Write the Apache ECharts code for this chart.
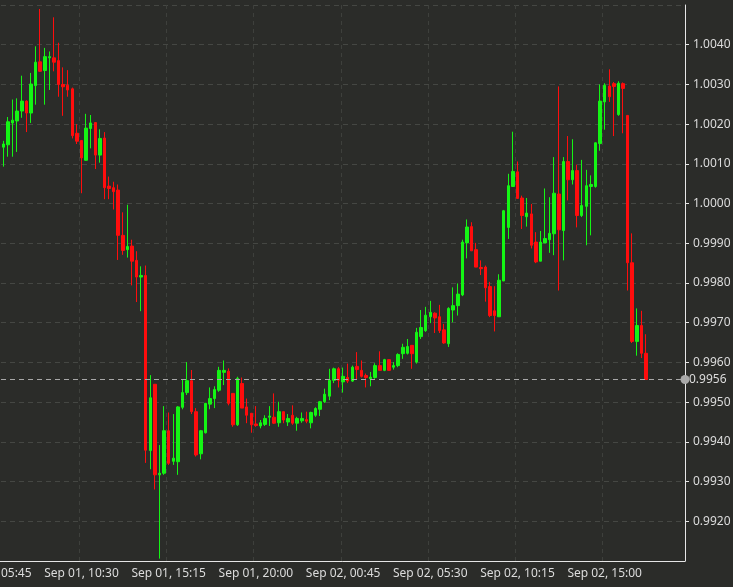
<!DOCTYPE html>
<html>
<head>
<meta charset="utf-8">
<script src="https://cdn.jsdelivr.net/npm/echarts@6/dist/echarts.min.js"></script>
<style>
  html, body { margin: 0; padding: 0; background: #2b2c29; }
  #main { width: 733px; height: 587px; }
</style>
</head>
<body>
<div id="main"></div>
<script>
// 15 minute candles, Sep 01 05:45 -> Sep 02 17:15 (first two slots are off the left edge)
var startTime = Date.UTC(2022, 8, 1, 5, 45);
var slotCount = 151;          // axis runs a few empty slots past the last candle
var labelEvery = 19;          // one label every 4h45
var monthNames = ['Jan','Feb','Mar','Apr','May','Jun','Jul','Aug','Sep','Oct','Nov','Dec'];

var opens = [
  null, null,
  1.00142, 1.00148, 1.00203, 1.00208, 1.00233, 1.00258, 1.00228, 1.00297, 1.00357, 1.00335,
  1.00367, 1.00367, 1.00360, 1.00300, 1.00298, 1.00289, 1.00177, 1.00159, 1.00109, 1.00189,
  1.00204, 1.00122, 1.00165, 1.00044, 1.00040, 1.00034, 0.99920, 0.99884, 0.99893, 0.99857,
  0.99815, 0.99819, 0.99378, 0.99545, 0.99317, 0.99321, 0.99428, 0.99351, 0.99350, 0.99487,
  0.99524, 0.99554, 0.99476, 0.99370, 0.99423, 0.99495, 0.99509, 0.99530, 0.99575, 0.99578,
  0.99522, 0.99443, 0.99547, 0.99488, 0.99472, 0.99445, 0.99440, 0.99444, 0.99462, 0.99462,
  0.99448, 0.99476, 0.99450, 0.99467, 0.99447, 0.99453, 0.99456, 0.99448, 0.99467, 0.99482,
  0.99501, 0.99515, 0.99555, 0.99584, 0.99551, 0.99562, 0.99553, 0.99590, 0.99580, 0.99567,
  0.99559, 0.99562, 0.99592, 0.99580, 0.99607, 0.99588, 0.99592, 0.99622, 0.99623, 0.99643,
  0.99601, 0.99665, 0.99680, 0.99715, 0.99724, 0.99715, 0.99682, 0.99647, 0.99732, 0.99743,
  0.99770, 0.99901, 0.99942, 0.99884, 0.99839, 0.99840, 0.99791, 0.99730, 0.99715, 0.99805,
  0.99940, 1.00043, 1.00080, 1.00014, 0.99967, 0.99974, 0.99903, 0.99855, 0.99901, 0.99909,
  0.99924, 1.00024, 0.99932, 1.00106, 1.00060, 1.00083, 0.99970, 0.99993, 1.00043, 1.00043,
  1.00151, 1.00256, 1.00296, 1.00302, 1.00224, 1.00302, 1.00222, 0.99851, 0.99653, 0.99693,
  0.99623
];
var closes = [
  null, null,
  1.00150, 1.00206, 1.00210, 1.00233, 1.00258, 1.00228, 1.00301, 1.00356, 1.00333, 1.00370,
  1.00370, 1.00356, 1.00300, 1.00294, 1.00286, 1.00171, 1.00157, 1.00115, 1.00190, 1.00203,
  1.00122, 1.00164, 1.00040, 1.00038, 1.00030, 0.99920, 0.99882, 0.99892, 0.99855, 0.99815,
  0.99819, 0.99379, 0.99511, 0.99317, 0.99321, 0.99428, 0.99346, 0.99359, 0.99488, 0.99524,
  0.99554, 0.99476, 0.99367, 0.99428, 0.99497, 0.99509, 0.99532, 0.99580, 0.99580, 0.99497,
  0.99443, 0.99560, 0.99485, 0.99467, 0.99443, 0.99441, 0.99448, 0.99459, 0.99465, 0.99447,
  0.99476, 0.99455, 0.99459, 0.99447, 0.99459, 0.99459, 0.99452, 0.99474, 0.99484, 0.99501,
  0.99520, 0.99555, 0.99584, 0.99555, 0.99565, 0.99553, 0.99588, 0.99582, 0.99565, 0.99562,
  0.99563, 0.99592, 0.99580, 0.99607, 0.99580, 0.99592, 0.99620, 0.99638, 0.99640, 0.99622,
  0.99676, 0.99688, 0.99719, 0.99726, 0.99712, 0.99680, 0.99649, 0.99736, 0.99743, 0.99772,
  0.99903, 0.99941, 0.99881, 0.99840, 0.99836, 0.99788, 0.99718, 0.99718, 0.99807, 0.99982,
  1.00045, 1.00081, 1.00013, 0.99970, 0.99976, 0.99895, 0.99853, 0.99903, 0.99912, 0.99925,
  1.00026, 0.99934, 1.00106, 1.00060, 1.00083, 0.99970, 0.99995, 1.00045, 1.00048, 1.00153,
  1.00258, 1.00298, 1.00269, 1.00295, 1.00303, 1.00290, 0.99851, 0.99653, 0.99693, 0.99623,
  0.99557
];
var lows = [
  null, null,
  1.00093, 1.00118, 1.00118, 1.00130, 1.00216, 1.00180, 1.00203, 1.00249, 1.00332, 1.00249,
  1.00286, 1.00333, 1.00269, 1.00221, 1.00269, 1.00164, 1.00150, 1.00026, 1.00108, 1.00139,
  1.00087, 1.00103, 1.00011, 1.00011, 0.99985, 0.99858, 0.99871, 0.99864, 0.99794, 0.99752,
  0.99729, 0.99347, 0.99331, 0.99280, 0.99106, 0.99317, 0.99342, 0.99342, 0.99317, 0.99482,
  0.99518, 0.99470, 0.99363, 0.99356, 0.99421, 0.99482, 0.99485, 0.99526, 0.99543, 0.99492,
  0.99438, 0.99440, 0.99485, 0.99447, 0.99423, 0.99438, 0.99434, 0.99440, 0.99440, 0.99445,
  0.99438, 0.99447, 0.99440, 0.99443, 0.99428, 0.99448, 0.99447, 0.99434, 0.99463, 0.99465,
  0.99498, 0.99505, 0.99548, 0.99537, 0.99524, 0.99548, 0.99551, 0.99556, 0.99562, 0.99537,
  0.99540, 0.99559, 0.99580, 0.99578, 0.99580, 0.99582, 0.99588, 0.99609, 0.99620, 0.99584,
  0.99597, 0.99659, 0.99677, 0.99699, 0.99674, 0.99674, 0.99647, 0.99639, 0.99701, 0.99718,
  0.99767, 0.99862, 0.99881, 0.99840, 0.99820, 0.99753, 0.99714, 0.99678, 0.99715, 0.99805,
  0.99911, 1.00043, 1.00012, 0.99936, 0.99942, 0.99887, 0.99850, 0.99855, 0.99901, 0.99876,
  0.99870, 0.99781, 0.99857, 1.00008, 1.00048, 0.99940, 0.99966, 0.99895, 0.99920, 1.00040,
  1.00133, 1.00186, 1.00256, 1.00170, 1.00221, 1.00177, 0.99781, 0.99649, 0.99617, 0.99611,
  0.99557
];
var highs = [
  null, null,
  1.00158, 1.00218, 1.00262, 1.00265, 1.00322, 1.00260, 1.00329, 1.00396, 1.00490, 1.00392,
  1.00383, 1.00469, 1.00405, 1.00343, 1.00336, 1.00292, 1.00200, 1.00159, 1.00226, 1.00223,
  1.00204, 1.00187, 1.00180, 1.00068, 1.00055, 1.00048, 0.99978, 0.99997, 0.99909, 0.99880,
  0.99842, 0.99844, 0.99568, 0.99545, 0.99392, 0.99490, 0.99474, 0.99470, 0.99490, 0.99558,
  0.99601, 0.99581, 0.99485, 0.99430, 0.99498, 0.99537, 0.99540, 0.99589, 0.99605, 0.99585,
  0.99522, 0.99564, 0.99562, 0.99509, 0.99472, 0.99490, 0.99455, 0.99467, 0.99490, 0.99522,
  0.99501, 0.99476, 0.99470, 0.99492, 0.99463, 0.99474, 0.99476, 0.99476, 0.99487, 0.99503,
  0.99534, 0.99584, 0.99587, 0.99588, 0.99587, 0.99597, 0.99592, 0.99626, 0.99605, 0.99572,
  0.99576, 0.99598, 0.99628, 0.99609, 0.99607, 0.99601, 0.99623, 0.99647, 0.99659, 0.99643,
  0.99687, 0.99732, 0.99740, 0.99755, 0.99726, 0.99745, 0.99697, 0.99739, 0.99789, 0.99799,
  0.99909, 0.99960, 0.99953, 0.99901, 0.99857, 0.99844, 0.99803, 0.99792, 0.99822, 0.99984,
  1.00075, 1.00181, 1.00106, 1.00020, 1.00014, 0.99999, 0.99928, 0.99931, 1.00038, 1.00016,
  1.00117, 1.00295, 1.00117, 1.00170, 1.00162, 1.00098, 1.00110, 1.00085, 1.00071, 1.00154,
  1.00300, 1.00303, 1.00338, 1.00306, 1.00308, 1.00305, 1.00222, 0.99925, 0.99736, 0.99730,
  0.99671
];

var yMin = 0.9910, yMax = 1.0050, yStep = 0.001;

function pad2(n) { return (n < 10 ? '0' : '') + n; }

var categories = [];
for (var k = 0; k < slotCount; k++) {
  var d = new Date(startTime + k * 15 * 60 * 1000);
  categories.push(monthNames[d.getUTCMonth()] + ' ' + pad2(d.getUTCDate()) + ', ' +
    pad2(d.getUTCHours()) + ':' + pad2(d.getUTCMinutes()));
}

var candles = [];
for (var i = 0; i < opens.length; i++) {
  if (opens[i] === null) {
    candles.push(['-', '-', '-', '-']);
  } else {
    candles.push([opens[i], closes[i], lows[i], highs[i]]);
  }
}
var lastClose = closes[closes.length - 1];

function showEvery(index) { return index % labelEvery === 0; }

var chart = echarts.init(document.getElementById('main'));
var option = {
  backgroundColor: '#2b2c29',
  animation: false,
  grid: { left: -8, right: 48, top: 5, bottom: 26, containLabel: false, outerBoundsMode: 'none' },
  xAxis: {
    type: 'category',
    data: categories,
    boundaryGap: true,
    axisLine: { lineStyle: { color: '#e6e6e6', width: 1 } },
    axisTick: { interval: showEvery, alignWithLabel: true, length: 4, lineStyle: { color: '#e6e6e6' } },
    axisLabel: { interval: showEvery, color: '#dcdcdc', fontSize: 12, margin: 7, fontFamily: 'Noto Sans' },
    splitLine: { show: true, interval: showEvery, lineStyle: { color: '#3e403c', type: [4, 4] } }
  },
  yAxis: {
    type: 'value',
    position: 'right',
    scale: true,
    min: yMin,
    max: yMax,
    interval: yStep,
    axisLine: { show: true, lineStyle: { color: '#e6e6e6' } },
    axisTick: { show: true, length: 4, lineStyle: { color: '#e6e6e6' } },
    axisLabel: {
      color: '#dcdcdc', fontSize: 12, margin: 8, fontFamily: 'Noto Sans',
      showMinLabel: false, showMaxLabel: false,
      formatter: function (v) { return v.toFixed(4); }
    },
    splitLine: { show: true, lineStyle: { color: '#454743', type: [5, 4] } }
  },
  series: [{
    type: 'candlestick',
    data: candles,
    barWidth: 3,
    itemStyle: {
      color: '#14f514',
      color0: '#ff0d0d',
      borderColor: '#14f514',
      borderColor0: '#ff0d0d',
      borderWidth: 1
    }
  }, {
    // last price marker
    type: 'line',
    data: [],
    silent: true,
    markLine: {
      silent: true,
      precision: 5,
      symbol: ['none', 'circle'],
      symbolSize: 9,
      lineStyle: { color: '#a8a8a8', type: [5, 4], width: 1 },
      label: {
        position: 'end',
        distance: 4,
        color: '#dcdcdc',
        fontSize: 12,
        fontFamily: 'Noto Sans',
        formatter: function () { return lastClose.toFixed(4); }
      },
      data: [{ yAxis: lastClose }]
    }
  }]
};
chart.setOption(option);
</script>
</body>
</html>
